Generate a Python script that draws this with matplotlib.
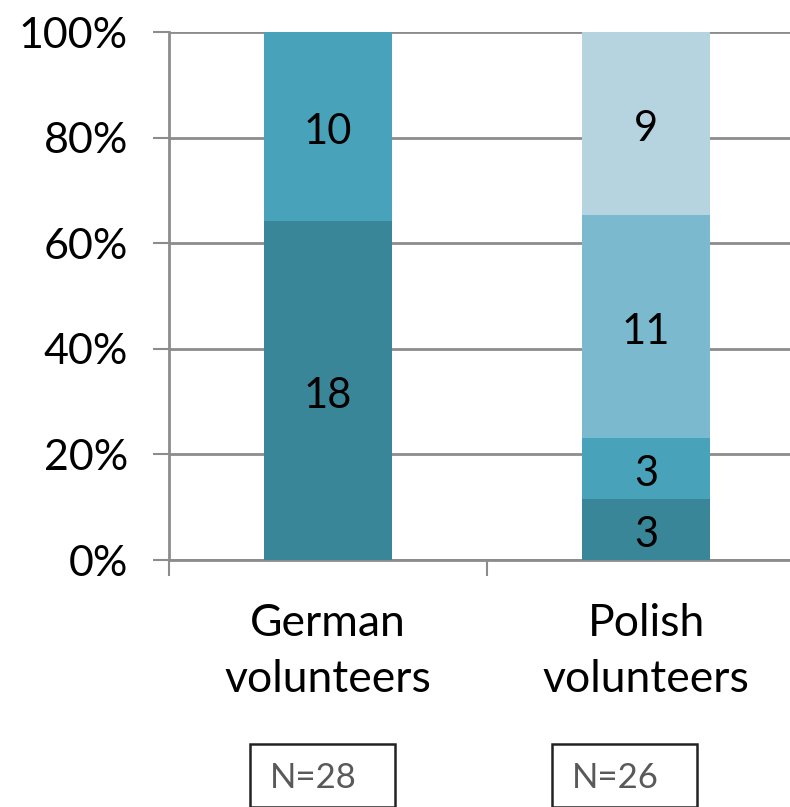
import matplotlib
matplotlib.use('Agg')
import matplotlib.pyplot as plt
import numpy as np
from matplotlib.patches import Rectangle

plt.rcParams['font.family'] = ['Lato', 'DejaVu Sans']

# Data
groups = ['German\nvolunteers', 'Polish\nvolunteers']
sample_sizes = [28, 26]
# segments from bottom to top (counts)
seg_dark = [18, 3]
seg_mid = [10, 3]
seg_light = [0, 11]
seg_pale = [0, 9]
segments = [seg_dark, seg_mid, seg_light, seg_pale]
seg_colors = ['#3A8699', '#48A2B9', '#7BB9CE', '#B6D4DF']
yticks = [0, 20, 40, 60, 80, 100]

grid_col = '#8C8C8C'

fig = plt.figure(figsize=(7.9, 8.07), dpi=100)
ax = fig.add_axes([169 / 790, 1 - 560 / 807, 636 / 790, 528 / 807])

x = np.arange(len(groups))
totals = np.array(sample_sizes, dtype=float)
bottom = np.zeros(len(groups))
for counts, col in zip(segments, seg_colors):
    counts = np.array(counts, dtype=float)
    pct = counts / totals * 100
    ax.bar(x, pct, width=0.4, bottom=bottom, color=col, zorder=3)
    for xi, c, p, b in zip(x, counts, pct, bottom):
        if c > 0:
            ax.annotate(f'{int(c)}', (xi, b + p / 2), xytext=(0, -4),
                        textcoords='offset points', ha='center', va='center',
                        fontsize=30, color='black', zorder=4)
    bottom += pct

ax.set_xlim(-0.5, 1.5)
ax.set_ylim(0, 100)
ax.set_yticks(yticks)
ax.set_yticklabels([f'{v}%' for v in yticks], fontsize=31)
ax.yaxis.grid(True, color=grid_col, linewidth=2, zorder=0)
ax.set_axisbelow(True)

ax.set_xticks(x)
ax.set_xticklabels(groups, fontsize=32, linespacing=1.45)
ax.set_xticks([-0.5, 0.5], minor=True)
ax.tick_params(axis='x', which='major', length=0, pad=31)
ax.tick_params(axis='x', which='minor', length=11.5, width=1.5, color=grid_col)
ax.tick_params(axis='y', length=11.5, width=1.5, color=grid_col, pad=18)

for s in ['top', 'right']:
    ax.spines[s].set_visible(False)
for s in ['left', 'bottom']:
    ax.spines[s].set_color(grid_col)
    ax.spines[s].set_linewidth(2)

# N boxes below the categories
box_left = [250, 552]
for bl, n in zip(box_left, sample_sizes):
    rect = Rectangle((bl / 790, 0), 145 / 790, 1 - 744 / 807,
                     transform=fig.transFigure, facecolor='white',
                     edgecolor='#222222', linewidth=1.8, clip_on=False)
    fig.add_artist(rect)
    fig.text((bl + 20) / 790, 1 - 778 / 807, f'N={n}', ha='left', va='center',
             fontsize=25, color='#595959')

fig.savefig('out.png', dpi=100)
